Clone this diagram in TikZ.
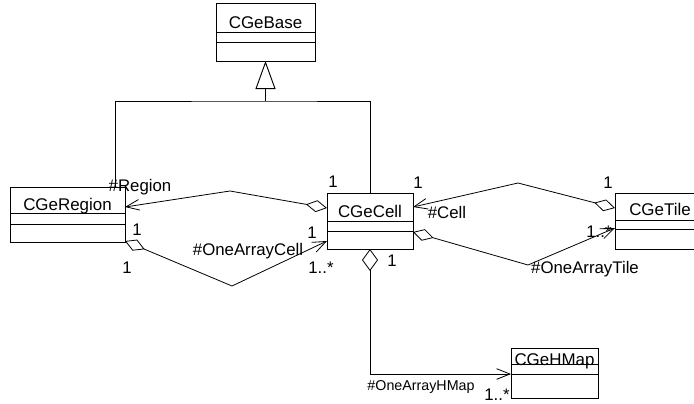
\documentclass[tikz,border=0pt]{standalone}
\usepackage{fontspec}
\setmainfont{Liberation Sans}
\usetikzlibrary{arrows.meta,calc}
\begin{document}
\begin{tikzpicture}[x=0.75pt,y=-0.75pt,
  classbox/.style={draw,line width=0.7pt,inner sep=0pt,outer sep=0pt,anchor=north west},
  divline/.style={line width=0.6pt},
  cname/.style={anchor=base,inner sep=0pt,font=\fontsize{12.7}{14}\selectfont},
  lbl/.style={anchor=base,inner sep=0pt,font=\fontsize{12.6}{14}\selectfont},
  smalllbl/.style={anchor=base,inner sep=0pt,font=\fontsize{10.7}{12}\selectfont},
  assoc/.style={line width=0.6pt},
  aggnav/.style={assoc,{Diamond[open,length=16pt,width=9pt]}-{Straight Barb[length=10pt,width=8pt]}},
  compnav/.style={assoc,{Diamond[open,length=16.5pt,width=12pt]}-{Straight Barb[length=10pt,width=8pt]}},
  inherit/.style={line width=0.7pt,-{Triangle[open,length=21pt,width=15pt]}}
]
\useasboundingbox (0,0) rectangle (694,404);
\clip (0,0) rectangle (694,404);

% class boxes
\node[classbox,minimum width=74.25pt,minimum height=43.5pt] (base) at (216,3) {};
\node[classbox,minimum width=86.25pt,minimum height=41.25pt] (region) at (10,187) {};
\node[classbox,minimum width=64.5pt,minimum height=42pt] (cell) at (327,193) {};
\node[classbox,minimum width=67.5pt,minimum height=42pt] (tile) at (615,193) {};
\node[classbox,minimum width=65.25pt,minimum height=37.5pt] (hmap) at (511,348) {};

% compartments
\draw[divline] ($(base.north west)+(0,29)$) -- ($(base.north east)+(0,29)$);
\draw[divline] ($(base.north west)+(0,39)$) -- ($(base.north east)+(0,39)$);
\draw[divline] ($(region.north west)+(0,26)$) -- ($(region.north east)+(0,26)$);
\draw[divline] ($(region.north west)+(0,37)$) -- ($(region.north east)+(0,37)$);
\draw[divline] ($(cell.north west)+(0,28)$) -- ($(cell.north east)+(0,28)$);
\draw[divline] ($(cell.north west)+(0,38)$) -- ($(cell.north east)+(0,38)$);
\draw[divline] ($(tile.north west)+(0,27)$) -- ($(tile.north east)+(0,27)$);
\draw[divline] ($(tile.north west)+(0,36)$) -- ($(tile.north east)+(0,36)$);
\draw[divline] ($(hmap.north west)+(0,16)$) -- ($(hmap.north east)+(0,16)$);
\draw[divline] ($(hmap.north west)+(0,26)$) -- ($(hmap.north east)+(0,26)$);

% class names
\node[cname] (basename) at ($(base.north)+(0,25)$) {CGeBase};
\node[cname] (regionname) at ($(region.north)+(0,23)$) {CGeRegion};
\node[cname] (cellname) at ($(cell.north)+(0,24)$) {CGeCell};
\node[cname] (tilename) at ($(tile.north)+(0,22)$) {CGeTile};
\node[cname] (hmapname) at ($(hmap.north)+(0,17)$) {CGeHMap};

% generalization
\coordinate (j) at ($(base.south)+(0,40)$);
\coordinate (regtop) at ($(region.north west)+(105,0)$);
\draw[line width=0.7pt] (regtop) |- (j) -| (cell.north);
\draw[inherit] (j) -- (base.south);

% associations Region - Cell
\coordinate (p1) at (230,191);
\coordinate (p2) at (232,286);
\draw[aggnav] ($(cell.north west)+(0,15)$) -- (p1) -- ($(region.north east)+(0,20)$);
\draw[aggnav] ($(region.south east)+(0,-1)$) -- (p2) -- ($(cell.south west)+(0,-8)$);

% associations Cell - Tile
\coordinate (p3) at (518,183);
\coordinate (p4) at (528,265);
\draw[aggnav] ($(tile.north west)+(0,15)$) -- (p3) -- ($(cell.north east)+(0,14)$);
\draw[aggnav] ($(cell.north east)+(0,39)$) -- (p4) -- ($(tile.north west)+(0,35)$);

% association Cell - HMap
\draw[compnav] (cell.south) |- ($(hmap.north west)+(0,26)$);

% labels
\node[lbl] (lregion) at (140,191) {\#Region};
\node[lbl] (l1a) at (333,187) {1};
\node[lbl] (l1b) at (137,235) {1};
\node[lbl] (l1c) at (127,273) {1};
\node[lbl] (lcellarr) at (248,255) {\#OneArrayCell};
\node[lbl] (l1d) at (312,238) {1};
\node[lbl] (lmany1) at (321,273) {1..*};
\node[lbl] (l1e) at (392,266) {1};
\node[lbl] (l1f) at (418,188) {1};
\node[lbl] (lcell) at (447,218) {\#Cell};
\node[lbl] (l1g) at (608,188) {1};
\node[lbl] (lmany2) at (599,237) {1..*};
\node[lbl] (ltilearr) at (585,273) {\#OneArrayTile};
\node[smalllbl] (lhmaparr) at (421,390) {\#OneArrayHMap};
\node[lbl] (lmany3) at (497,400) {1..*};
\end{tikzpicture}
\end{document}
